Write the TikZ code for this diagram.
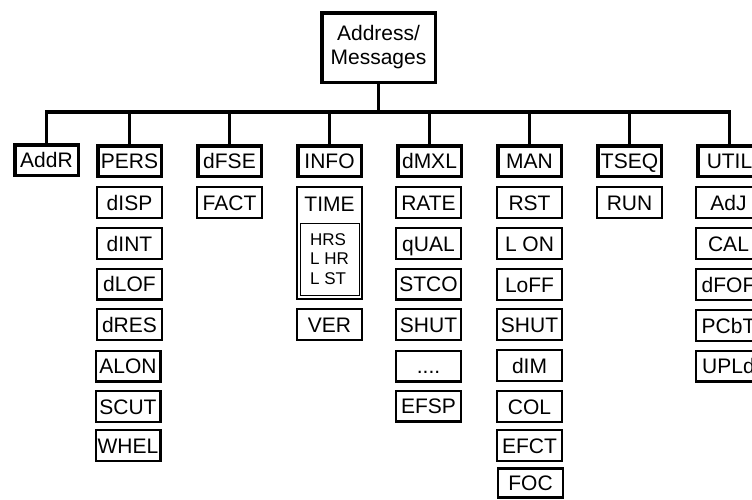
\documentclass[tikz,border=0pt]{standalone}
\usepackage{fontspec}
\setmainfont{Liberation Sans}
\usepackage{tikz}

\begin{document}
\begin{tikzpicture}[x=1pt,y=-1pt,
	mainbox/.style={draw, line width=3.5pt, minimum width=63.5pt, minimum height=30.5pt, inner sep=0pt, text height=15pt, text depth=0pt, font=\fontsize{21}{25}\selectfont},
	subbox/.style={draw, line width=2.3pt, minimum width=64.7pt, minimum height=30.7pt, inner sep=0pt, text height=15pt, text depth=0pt, font=\fontsize{21}{25}\selectfont},
	link/.style={line width=3.5pt}]
	\useasboundingbox (0,0) rectangle (752,499);
	\clip (0,0) rectangle (752,499);

	% root
	\node[draw, line width=3.5pt, minimum width=113.5pt, minimum height=69.5pt, inner sep=0pt, align=center, font=\fontsize{21}{24}\selectfont] (root) at (378.5,47.5) {Address/\\Messages};
	\coordinate (bus) at (378.5,112);

	% first level
	\node[mainbox] (addr) at (46.5,160) {AddR};
	\node[mainbox] (pers) at (129.5,161) {PERS};
	\node[mainbox] (dfse) at (229.5,161) {dFSE};
	\node[mainbox] (info) at (329.5,161) {INFO};
	\node[mainbox] (dmxl) at (429.5,161) {dMXL};
	\node[mainbox] (man) at (529.5,161) {MAN};
	\node[mainbox] (tseq) at (629.5,161) {TSEQ};
	\node[mainbox] (util) at (729.5,161) {UTIL};

	\draw[link] (root.south) -- (bus);
	\draw[link] (addr.north) -- (addr.north |- bus) -- (util.north |- bus) -- (util.north);
	\draw[link] (pers.north) -- (pers.north |- bus);
	\draw[link] (dfse.north) -- (dfse.north |- bus);
	\draw[link] (info.north) -- (info.north |- bus);
	\draw[link] (dmxl.north) -- (dmxl.north |- bus);
	\draw[link] (man.north) -- (man.north |- bus);
	\draw[link] (tseq.north) -- (tseq.north |- bus);

	% PERS
	\node[subbox] (disp) at (129.5,202.5) {dISP};
	\node[subbox] (dint) at (129.5,243.5) {dINT};
	\node[subbox] (dlof) at (129.5,284) {dLOF};
	\node[subbox] (dres) at (129.5,324.5) {dRES};
	\node[subbox] (alon) at (128,366) {ALON};
	\node[subbox] (scut) at (128,406.5) {SCUT};
	\node[subbox] (whel) at (128,445.5) {WHEL};

	% dFSE
	\node[subbox] (fact) at (229.5,202.5) {FACT};

	% INFO
	\node[subbox, minimum height=111.7pt] (time) at (329.5,243) {};
	\node[font=\fontsize{21}{25}\selectfont, inner sep=0pt, text height=15pt, text depth=0pt] (timetxt) at (329.5,204) {TIME};
	\node[draw, line width=0.9pt, minimum width=59pt, minimum height=72pt, align=left, font=\fontsize{17}{19.5}\selectfont] (hrs) at (329.5,259) {HRS\\L HR\\L ST};
	\node[subbox] (ver) at (329.5,324.5) {VER};

	% dMXL
	\node[subbox] (rate) at (428.5,202.5) {RATE};
	\node[subbox] (qual) at (428.5,243.5) {qUAL};
	\node[subbox] (stco) at (428.5,284) {STCO};
	\node[subbox] (shutx) at (428.5,324.5) {SHUT};
	\node[subbox] (dots) at (428.5,366) {....};
	\node[subbox] (efsp) at (428.5,406) {EFSP};

	% MAN
	\node[subbox] (rst) at (529.5,202.5) {RST};
	\node[subbox] (lon) at (529.5,243.5) {L ON};
	\node[subbox] (loff) at (529.5,284.5) {LoFF};
	\node[subbox] (shut) at (529.5,324.5) {SHUT};
	\node[subbox] (dim) at (529.5,365.5) {dIM};
	\node[subbox] (col) at (529.5,406.5) {COL};
	\node[subbox] (efct) at (529.5,445.5) {EFCT};
	\node[subbox, minimum height=29pt] (foc) at (530.5,483) {FOC};

	% TSEQ
	\node[subbox] (run) at (629.5,202.5) {RUN};

	% UTIL
	\node[subbox] (adj) at (728.5,202.5) {AdJ};
	\node[subbox] (cal) at (728.5,243.5) {CAL};
	\node[subbox] (dfof) at (728.5,284.5) {dFOF};
	\node[subbox] (pcbt) at (728.5,325.5) {PCbT};
	\node[subbox] (upld) at (728.5,366) {UPLd};
\end{tikzpicture}
\end{document}
